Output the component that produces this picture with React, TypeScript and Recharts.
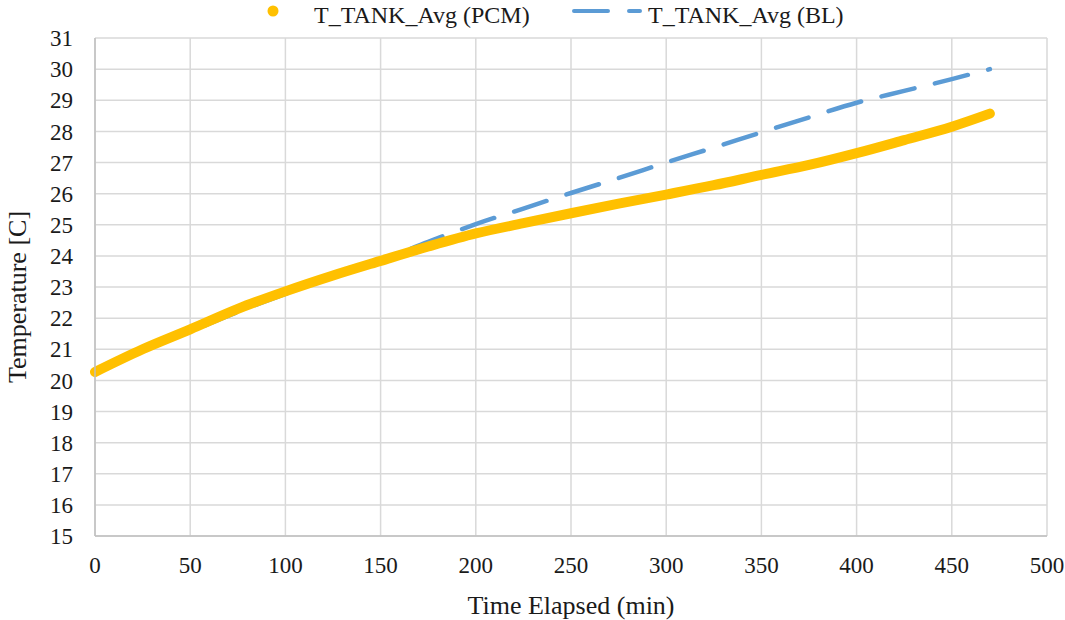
import { LineChart, Line, XAxis, YAxis, CartesianGrid } from 'recharts';

const minutes = [0, 25, 50, 75, 100, 125, 150, 175, 200, 225, 250, 275, 300, 325, 350, 375, 400, 425, 450, 470];
const pcm = [20.27, 21.0, 21.64, 22.3, 22.86, 23.37, 23.84, 24.3, 24.72, 25.05, 25.37, 25.68, 25.97, 26.27, 26.6, 26.92, 27.3, 27.72, 28.15, 28.57];
const bl = [20.27, 20.95, 21.57, 22.2, 22.78, 23.33, 23.85, 24.45, 25.02, 25.52, 26.02, 26.5, 27.0, 27.48, 27.97, 28.45, 28.92, 29.3, 29.68, 30.0];

const xTicks = [0, 50, 100, 150, 200, 250, 300, 350, 400, 450, 500];
const yTicks = [15, 16, 17, 18, 19, 20, 21, 22, 23, 24, 25, 26, 27, 28, 29, 30, 31];

const FONT = 'Liberation Serif';
const TEXT = '#1a1a1a';
const YELLOW = '#ffc000';
const BLUE = '#5b9bd5';

const data = minutes.map((m, i) => ({ t: m, pcm: pcm[i], bl: bl[i] }));

// legend sits above the plot, like the Excel one
function TopLegend() {
  return (
    <svg width={1065} height={30} style={{ position: 'absolute', left: 0, top: 0 }}>
      <circle cx={273} cy={11} r={5.5} fill={YELLOW} />
      <text x={314} y={23} fontFamily={FONT} fontSize={24} fill={TEXT}>T_TANK_Avg (PCM)</text>
      <line x1={574} y1={11} x2={640} y2={11} stroke={BLUE} strokeWidth={4} strokeLinecap="round" strokeDasharray="34 21" />
      <text x={648} y={23} fontFamily={FONT} fontSize={24} fill={TEXT}>T_TANK_Avg (BL)</text>
    </svg>
  );
}

function YTitle({ viewBox }: any) {
  const cx = 17;
  const cy = viewBox.y + viewBox.height / 2 + 10;
  return (
    <text x={cx} y={cy} transform={`rotate(-90 ${cx} ${cy})`} textAnchor="middle" dominantBaseline="central" fontFamily={FONT} fontSize={26} fill={TEXT}>
      Temperature [C]
    </text>
  );
}

function XTitle({ viewBox }: any) {
  const cx = viewBox.x + viewBox.width / 2;
  return (
    <text x={cx} y={605} textAnchor="middle" dominantBaseline="central" fontFamily={FONT} fontSize={26} fill={TEXT}>
      Time Elapsed (min)
    </text>
  );
}

export default function App() {
  return (
    <div style={{ position: 'absolute', left: 0, top: 0, width: 1065, height: 620, background: '#fff' }}>
      <LineChart width={1065} height={620} data={data} margin={{ top: 38, right: 18, left: 0, bottom: 0 }}>
        <CartesianGrid stroke="#d9d9d9" strokeWidth={1.5} horizontalValues={yTicks} verticalValues={xTicks} />
        <XAxis
          type="number"
          dataKey="t"
          domain={[0, 500]}
          ticks={xTicks}
          height={84}
          tickLine={false}
          tickSize={0}
          tickMargin={21}
          stroke="#bfbfbf"
          strokeWidth={1.5}
          tick={{ fill: TEXT, fontSize: 23, fontFamily: FONT }}
          label={<XTitle />}
        />
        <YAxis
          type="number"
          domain={[15, 31]}
          ticks={yTicks}
          width={95}
          tickLine={false}
          tickSize={0}
          tickMargin={22}
          interval={0}
          stroke="#bfbfbf"
          strokeWidth={1.5}
          tick={{ fill: TEXT, fontSize: 23, fontFamily: FONT }}
          label={<YTitle />}
        />
        <Line
          type="monotone"
          dataKey="bl"
          stroke={BLUE}
          strokeWidth={4.5}
          strokeDasharray="34 21"
          strokeDashoffset={46}
          strokeLinecap="round"
          dot={false}
          isAnimationActive={false}
        />
        <Line
          type="monotone"
          dataKey="pcm"
          stroke={YELLOW}
          strokeWidth={10}
          strokeLinecap="round"
          dot={false}
          isAnimationActive={false}
        />
      </LineChart>
      <TopLegend />
    </div>
  );
}
